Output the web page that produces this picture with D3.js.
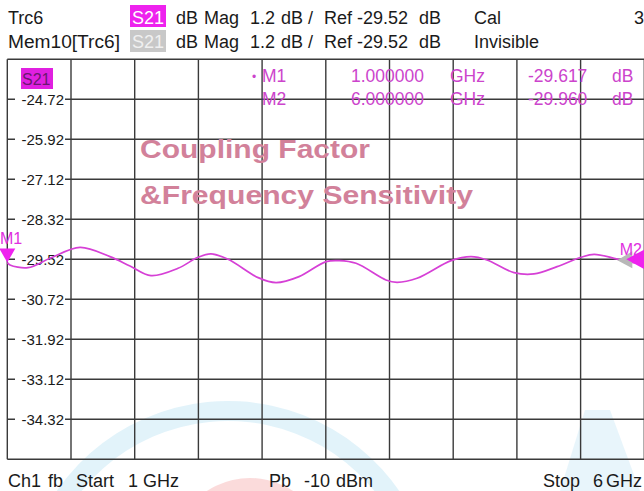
<!DOCTYPE html>
<html><head><meta charset="utf-8">
<script src="https://cdn.jsdelivr.net/npm/d3@7"></script>
<style>
html,body{margin:0;padding:0;background:#fff;}
svg{display:block;}
text{font-family:"Liberation Sans",Arial,sans-serif;}
</style></head>
<body>
<svg id="c" width="644" height="491"></svg>
<script>
// ---- data ----
const freqGHz = [1.000, 1.021, 1.162, 1.335, 1.571, 1.806, 1.963, 2.128, 2.340, 2.497, 2.599, 2.733, 2.969, 3.109, 3.290, 3.502, 3.604, 3.738, 3.972, 4.059, 4.216, 4.483, 4.640, 4.765, 4.977, 5.134, 5.315, 5.503, 5.606, 5.763, 5.841, 5.920, 6.000];
const s21dB  = [-29.617, -29.69, -29.77, -29.49, -29.16, -29.44, -29.72, -30.01, -29.79, -29.46, -29.36, -29.52, -30.07, -30.22, -30.04, -29.59, -29.56, -29.64, -30.14, -30.21, -30.09, -29.56, -29.44, -29.54, -29.92, -29.96, -29.74, -29.46, -29.37, -29.49, -29.57, -29.62, -29.66];
const yTickLabels = ["-24.72","-25.92","-27.12","-28.32","-29.52","-30.72","-31.92","-33.12","-34.32"];
const xDivisions = [1.0,1.5,2.0,2.5,3.0,3.5,4.0,4.5,5.0,5.5,6.0];
const refLevel = -29.52, dbPerDiv = 1.2;
const markerNames = ["M1","M2"];
const markerFreqText = ["1.000000","6.000000"];
const markerValText = ["-29.617","-29.960"];
const markerFreq = [1.0, 6.0];

const svg = d3.select("#c");
const X0 = 7.3, X1 = 644.3, Y0 = 59.3, Y1 = 459.3;
const x = d3.scaleLinear().domain([1,6]).range([X0,X1]);
const y = d3.scaleLinear().domain([refLevel-5*dbPerDiv, refLevel+5*dbPerDiv]).range([Y1,Y0]);

// faint background watermark
const wm = svg.append("g");
const arc = d3.arc().innerRadius(188).outerRadius(208).startAngle(-1.35).endAngle(1.15);
wm.append("path").attr("d",arc()).attr("transform","translate(228,609)")
  .attr("fill","rgba(110,195,230,0.2)");
const arc2 = d3.arc().innerRadius(60).outerRadius(78).startAngle(-0.9).endAngle(0.9);
wm.append("path").attr("d",arc2()).attr("transform","translate(250,556)")
  .attr("fill","rgba(235,90,90,0.22)");
wm.append("path").attr("d","M560,491 L585,410 L610,410 L640,491 Z").attr("fill","rgba(110,195,230,0.16)");

function tokens(g, list, yb){ list.forEach(([tx,t,a])=>g.append("text").attr("x",tx).attr("y",yb).attr("text-anchor",a||"start").text(t)); }

// header text
const hdr = svg.append("g").attr("font-size",18).attr("fill","#1a1a1a");
hdr.append("text").attr("x",8).attr("y",24).text("Trc6");
hdr.append("text").attr("x",8).attr("y",48).attr("textLength",112).attr("lengthAdjust","spacingAndGlyphs").text("Mem10[Trc6]");
hdr.append("rect").attr("x",130).attr("y",5).attr("width",36).attr("height",22).attr("fill","#ee22ee");
hdr.append("text").attr("x",132).attr("y",24).attr("fill","#fff").text("S21");
hdr.append("rect").attr("x",130).attr("y",30).attr("width",36).attr("height",22).attr("fill","#c8c8c8");
hdr.append("text").attr("x",132).attr("y",48).attr("fill","#f0f0f0").text("S21");
[24,48].forEach(b=>tokens(hdr,[[176,"dB"],[204,"Mag"],[250,"1.2"],[281,"dB"],[308,"/"],[324,"Ref"],[357,"-29.52"],[419,"dB"]],b));
hdr.append("text").attr("x",474).attr("y",24).text("Cal");
hdr.append("text").attr("x",474).attr("y",48).text("Invisible");
hdr.append("text").attr("x",634).attr("y",24).text("3");

// grid
const grid = svg.append("g").attr("stroke","#3a3a3a").attr("stroke-width",1.4);
xDivisions.forEach(f=>grid.append("line").attr("x1",x(f)).attr("x2",x(f)).attr("y1",Y0).attr("y2",Y1));
d3.range(11).forEach(i=>{const v=refLevel+(5-i)*dbPerDiv;
  grid.append("line").attr("x1",X0).attr("x2",X1).attr("y1",y(v)).attr("y2",y(v));});

// y labels
const yl = svg.append("g").attr("font-size",15).attr("fill","#1a1a1a");
yTickLabels.forEach(t=>{
  const v=+t;
  yl.append("rect").attr("x",15).attr("y",y(v)-8).attr("width",50).attr("height",16).attr("fill","#fff");
  yl.append("text").attr("x",64).attr("y",y(v)+5.5).attr("text-anchor","end").text(t);
});

// S21 tag in plot
svg.append("rect").attr("x",21).attr("y",68).attr("width",32).attr("height",21).attr("fill","#e020e0");
svg.append("text").attr("x",22).attr("y",85).attr("font-size",16).attr("fill","#6a1870").text("S21");

// title inside plot
const tt = svg.append("g").attr("font-size",26).attr("font-weight","bold").attr("fill","#d2819a");
tt.append("text").attr("x",140).attr("y",158).attr("textLength",230).attr("lengthAdjust","spacingAndGlyphs").text("Coupling Factor");
tt.append("text").attr("x",140).attr("y",204).attr("textLength",333).attr("lengthAdjust","spacingAndGlyphs").text("&Frequency Sensitivity");

// trace
const line = d3.line().x((d,i)=>x(freqGHz[i])).y(d=>y(d)).curve(d3.curveCatmullRom.alpha(0.5));
svg.append("path").datum(s21dB).attr("d",line).attr("fill","none")
  .attr("stroke","#d640d6").attr("stroke-width",1.7);

// markers
const mk = svg.append("g");
const m1x = x(markerFreq[0]), m1y = y(s21dB[0]);
mk.append("path").attr("d",`M${m1x-8},${m1y-14} L${m1x+8},${m1y-14} L${m1x},${m1y} Z`).attr("fill","#ee22ee");
mk.append("text").attr("x",0).attr("y",m1y-19).attr("font-size",16).attr("fill","#e030e0").text("M1");
const m2x = x(markerFreq[1]) - 18, m2y = y(refLevel);
mk.append("path").attr("d",`M${m2x-9},${m2y+1} L${m2x+6},${m2y-8} L${m2x+6},${m2y+9} Z`).attr("fill","#b8b8b8");
mk.append("path").attr("d",`M${m2x},${m2y} L${m2x+24},${m2y-13} L${m2x+24},${m2y+13} Z`).attr("fill","#ee22ee");
mk.append("text").attr("x",642).attr("y",m2y-4).attr("text-anchor","end").attr("font-size",16).attr("fill","#e030e0").text("M2");

// marker readout
const ro = svg.append("g").attr("font-size",17.5).attr("fill","#cc44cc");
ro.append("text").attr("x",252).attr("y",81).attr("font-size",12).text("•");
markerNames.forEach((n,i)=>{
  const b = 82 + i*23;
  ro.append("text").attr("x",262).attr("y",b).text(n);
  ro.append("text").attr("x",351).attr("y",b).text(markerFreqText[i]);
  ro.append("text").attr("x",450).attr("y",b).text("GHz");
  ro.append("text").attr("x",528).attr("y",b).text(markerValText[i]);
  ro.append("text").attr("x",612).attr("y",b).text("dB");
});

// footer
const ft = svg.append("g").attr("font-size",18).attr("fill","#1a1a1a");
tokens(ft,[[8,"Ch1"],[48,"fb"],[76,"Start"],[128,"1"],[143,"GHz"],[269,"Pb"],[304,"-10"],[336,"dBm"],[543,"Stop"],[593,"6"],[642,"GHz","end"]],487);
</script>
</body></html>
